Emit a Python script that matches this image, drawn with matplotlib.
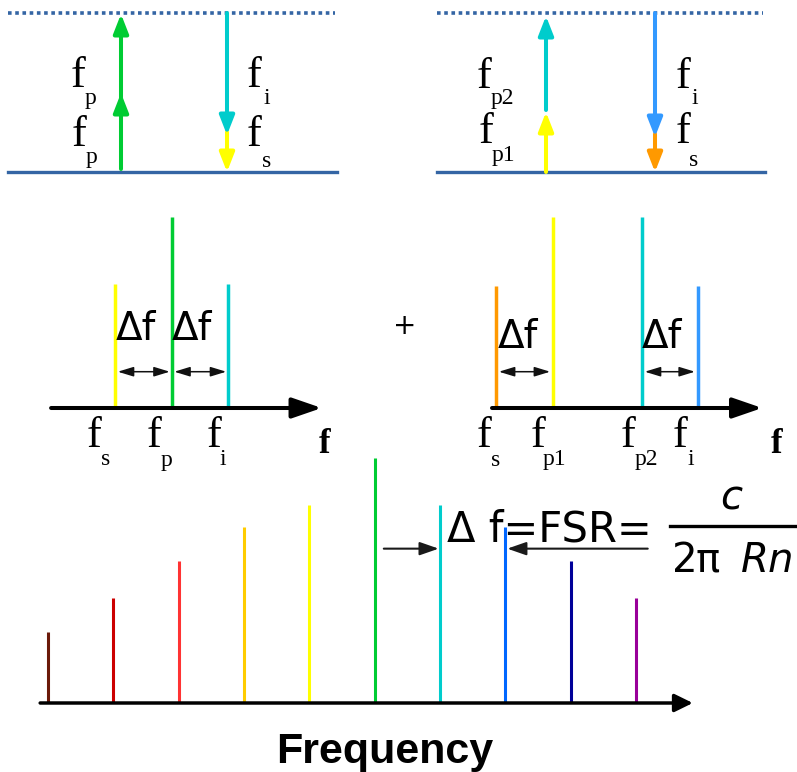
import matplotlib.pyplot as plt
import numpy as np
from matplotlib.transforms import Affine2D

W, H = 797, 772
LEVEL = '#3465a4'

# degenerate pumping spectrum (f in units of delta f, relative to f_p)
deg_freqs = [-1, 0, 1]
deg_amps = [0.65, 1.0, 0.65]
deg_colors = ['#ffff00', '#00cc33', '#00cccc']

# non-degenerate pumping spectrum (relative to f_s)
nd_freqs = [0, 1, 2.56, 3.54]
nd_amps = [0.64, 1.0, 1.0, 0.64]
nd_colors = ['#ff9900', '#ffff00', '#00cccc', '#3399ff']

# frequency comb
comb_modes = np.arange(10)
comb_amps = [0.29, 0.43, 0.58, 0.72, 0.81, 1.0, 0.81, 0.72, 0.58, 0.43]
comb_colors = ['#6b1a0a', '#cc0000', '#ff3333', '#ffcc00', '#ffff00',
               '#00cc33', '#00cccc', '#0066ff', '#000099', '#990099']

fig = plt.figure(figsize=(W / 100, H / 100), dpi=100)
ax = fig.add_axes([0, 0, 1, 1])
ax.set_xlim(0, W)
ax.set_ylim(H, 0)
ax.axis('off')

SERIF = 'Liberation Serif'
SANS = 'DejaVu Sans'


def panel(x0, y0, sx, sy):
    return Affine2D().scale(sx, -sy).translate(x0, y0) + ax.transData


def arrow(p0, p1, color, lw, hl, hw, style='-|>', tr=None, z=3):
    ax.annotate('', xy=p1, xytext=p0,
                xycoords=tr if tr is not None else 'data',
                textcoords=tr if tr is not None else 'data',
                annotation_clip=False, zorder=z,
                arrowprops=dict(arrowstyle=f'{style},head_length={hl},head_width={hw}',
                                color=color, lw=lw, shrinkA=0, shrinkB=0,
                                mutation_scale=10))


def flabel(x, y, sub, xs, ys, size=32, subsize=17):
    ax.text(x, y, 'f', family=SERIF, fontsize=size, va='baseline', ha='left')
    ax.text(xs, ys, sub, family=SERIF, fontsize=subsize, va='baseline', ha='left')


# ---- energy level diagrams ----
for xa, xb in [(8, 337), (437, 765)]:
    ax.plot([xa, xb - 2], [13, 13], color=LEVEL, lw=2.6, ls=(0, (1, 1)))
    ax.plot([xa, xb], [172, 172], color=LEVEL, lw=2.4)

# degenerate: two pump photons up, idler + signal down
arrow((121, 169), (121, 93), '#00cc33', 2.9, 1.15, 0.45)
arrow((121, 107), (121, 14), '#00cc33', 2.9, 1.15, 0.45)
arrow((227, 132), (227, 172), '#ffff00', 2.9, 1.15, 0.45)
arrow((227, 13), (227, 135), '#00cccc', 2.9, 1.15, 0.45)
flabel(71, 87, 'p', 85, 104)
flabel(72, 146, 'p', 86, 163)
flabel(247, 87, 'i', 264, 104)
flabel(247, 146, 's', 262, 167)

# non-degenerate: two different pumps
arrow((546, 172), (546, 112), '#ffff00', 2.9, 1.15, 0.45)
arrow((546, 110), (546, 16), '#00cccc', 2.9, 1.15, 0.45)
arrow((655, 134), (655, 172), '#ff9900', 2.9, 1.15, 0.45)
arrow((655, 13), (655, 137), '#3399ff', 2.9, 1.15, 0.45)
flabel(477, 88, 'p2', 491, 104)
flabel(479, 143, 'p1', 492, 161)
flabel(676, 88, 'i', 692, 104)
flabel(676, 143, 's', 689, 166)

# ---- degenerate spectrum ----
tr1 = panel(172, 408, 56.5, 191)
ax.vlines(deg_freqs, 0, deg_amps, colors=deg_colors, lw=2.5, transform=tr1, zorder=2)
arrow((-2.14, 0), (2.65, 0), 'black', 2.9, 1.8, 0.62, tr=tr1)
for a, b in zip(deg_freqs[:-1], deg_freqs[1:]):
    arrow((a + 0.04, 0.19), (b - 0.04, 0.19), '#111111', 1.1, 0.95, 0.29, style='<|-|>', tr=tr1)
ax.text(116, 340, 'Δf', family=SANS, fontsize=28, va='baseline')
ax.text(172, 340, 'Δf', family=SANS, fontsize=28, va='baseline')
flabel(87, 447, 's', 101, 465)
flabel(147, 447, 'p', 161, 466)
flabel(207, 447, 'i', 220, 465)
ax.text(325, 453, 'f', family=SERIF, fontsize=25, weight='bold', va='baseline', ha='center')

ax.text(405, 326, '+', family=SANS, fontsize=20, ha='center', va='center')

# ---- non-degenerate spectrum ----
tr2 = panel(496, 408, 57, 191)
ax.vlines(nd_freqs, 0, nd_amps, colors=nd_colors, lw=2.5, transform=tr2, zorder=2)
arrow((-0.07, 0), (4.67, 0), 'black', 2.9, 1.8, 0.62, tr=tr2)
for a, b in [(nd_freqs[0], nd_freqs[1]), (nd_freqs[2], nd_freqs[3])]:
    arrow((a + 0.05, 0.19), (b - 0.05, 0.19), '#111111', 1.1, 0.95, 0.29, style='<|-|>', tr=tr2)
ax.text(498, 348, 'Δf', family=SANS, fontsize=28, va='baseline')
ax.text(642, 348, 'Δf', family=SANS, fontsize=28, va='baseline')
flabel(477, 447, 's', 491, 466)
flabel(531, 447, 'p1', 543, 465)
flabel(621, 447, 'p2', 635, 465)
flabel(673, 447, 'i', 688, 465)
ax.text(777, 453, 'f', family=SERIF, fontsize=25, weight='bold', va='baseline', ha='center')

# ---- frequency comb ----
tr3 = panel(48, 703, 65.33, 245)
ax.text(447, 541, 'Δ f=FSR=', family=SANS, fontsize=30, va='baseline', zorder=1)
ax.vlines(comb_modes, 0, comb_amps, colors=comb_colors, lw=2.2, transform=tr3, zorder=2)
arrow((-0.12, 0), (9.87, 0), 'black', 2.5, 1.1, 0.54, tr=tr3)
arrow((5.14, 0.63), (5.98, 0.63), '#1a1a1a', 1.5, 1.15, 0.4, tr=tr3)
arrow((9.18, 0.63), (7.03, 0.63), '#1a1a1a', 1.5, 1.15, 0.4, tr=tr3)

ax.plot([670, 797], [526, 526], color='black', lw=2.4)
ax.text(731, 510, 'c', family=SANS, style='italic', fontsize=29, ha='center', va='baseline')
ax.text(672, 572, '2', family=SANS, fontsize=29, va='baseline')
ax.text(696, 572, 'π', family=SANS, fontsize=29, va='baseline')
ax.text(741, 572, 'Rn', family=SANS, style='italic', fontsize=29, va='baseline')

ax.text(385, 763, 'Frequency', family='Liberation Sans', weight='bold', fontsize=31,
        ha='center', va='baseline')

fig.savefig('out.png', dpi=100)
